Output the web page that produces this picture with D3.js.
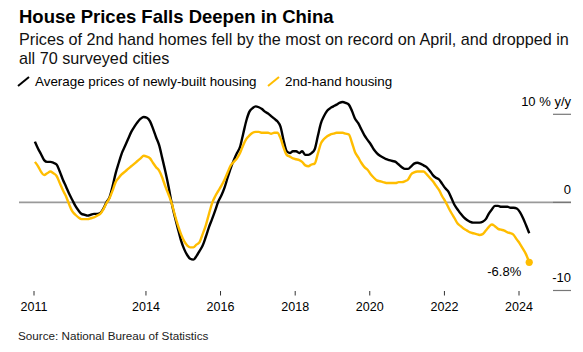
<!DOCTYPE html>
<html>
<head>
<meta charset="utf-8">
<script src="https://cdn.jsdelivr.net/npm/d3@7"></script>
<style>
  body { margin: 0; background: #fff; }
  text { font-family: Arial, "Liberation Sans", sans-serif; }
</style>
</head>
<body>
<div id="chart"></div>
<script>
// monthly y/y change, Jan 2011 .. Apr 2024
var startMonth = "2011-01";
var newBuilt = [
    6.9, 6.1, 5.5, 4.8, 4.6, 4.6, 4.5, 4.3, 3.5, 2.6, 1.8, 1.0,
    0.3, -0.4, -0.9, -1.3, -1.4, -1.5, -1.4, -1.3, -1.3, -1.2, -0.7, 0.0,
    0.6, 1.9, 3.3, 4.5, 5.6, 6.4, 7.2, 8.0, 8.6, 9.1, 9.5, 9.7,
    9.6, 9.2, 8.4, 7.4, 6.5, 5.0, 3.5, 1.8, -0.1, -1.6, -3.0, -4.3,
    -5.3, -6.0, -6.4, -6.5, -6.1, -5.5, -4.9, -3.9, -2.8, -1.9, -0.9, 0.1,
    0.8, 1.7, 2.8, 3.9, 4.8, 5.6, 6.3, 7.8, 9.3, 10.3, 10.7, 10.9,
    10.8, 10.6, 10.3, 10.1, 9.8, 9.5, 9.2, 8.6, 7.0, 5.8, 5.6, 5.8,
    5.8, 5.6, 5.8, 5.4, 5.4, 5.6, 6.0, 7.5, 9.0, 9.8, 10.4, 10.7,
    10.9, 11.1, 11.3, 11.4, 11.3, 11.1, 10.4, 9.5, 9.0, 8.3, 7.6, 7.1,
    6.6, 6.0, 5.6, 5.3, 5.1, 4.9, 4.8, 4.7, 4.6, 4.3, 4.0, 3.8,
    3.8, 4.1, 4.4, 4.5, 4.4, 4.2, 4.0, 3.6, 3.1, 2.8, 2.6, 2.1,
    1.6, 1.2, 0.5, -0.3, -0.8, -1.3, -1.7, -2.0, -2.2, -2.3, -2.3, -2.3,
    -2.2, -1.9, -1.3, -0.8, -0.4, -0.4, -0.5, -0.5, -0.5, -0.6, -0.6, -0.7,
    -1.1, -1.8, -2.6, -3.5
];
var secondHand = [
    4.6, 4.1, 3.5, 3.1, 3.3, 3.5, 3.3, 3.0, 2.2, 1.4, 0.7, -0.2,
    -1.0, -1.4, -1.7, -1.9, -1.9, -1.9, -1.8, -1.7, -1.5, -1.3, -0.8, -0.1,
    0.5, 1.4, 2.3, 2.8, 3.2, 3.5, 3.8, 4.1, 4.4, 4.7, 5.0, 5.3,
    5.2, 5.0, 4.5, 4.0, 3.6, 2.8, 1.8, 0.9, -0.1, -1.4, -2.6, -3.6,
    -4.4, -4.9, -5.1, -5.1, -4.8, -4.5, -3.6, -2.6, -1.3, -0.1, 0.7, 1.3,
    1.9, 2.6, 3.4, 4.2, 4.6, 5.0, 5.6, 6.5, 7.2, 7.6, 7.9, 8.0,
    8.0, 7.9, 7.9, 7.9, 7.8, 7.9, 7.9, 7.3, 6.2, 5.4, 5.2, 5.0,
    4.9, 4.8, 4.6, 4.2, 4.1, 4.3, 4.4, 5.5, 6.7, 7.2, 7.5, 7.7,
    7.8, 7.9, 7.9, 7.9, 7.8, 7.7, 6.8, 5.7, 5.1, 4.5, 4.0, 3.7,
    3.2, 2.8, 2.5, 2.4, 2.3, 2.2, 2.2, 2.2, 2.2, 2.3, 2.3, 2.4,
    2.6, 3.2, 3.4, 3.5, 3.5, 3.5, 3.2, 2.8, 2.4, 1.9, 1.4, 0.7,
    0.1, -0.6, -1.2, -1.8, -2.4, -2.7, -3.0, -3.2, -3.4, -3.5, -3.6, -3.7,
    -3.6, -3.2, -2.8, -2.5, -2.7, -3.0, -3.1, -3.2, -3.4, -3.5, -3.7, -4.2,
    -4.7, -5.3, -5.9, -6.8
];
var xTickYears = [2011, 2014, 2016, 2018, 2020, 2022, 2024];
var yTicks = [10, 0, -10];
var yTickLabels = ["10 % y/y", "0", "-10"];
var seriesNames = ["Average prices of newly-built housing", "2nd-hand housing"];
var lastLabel = "-6.8%";

function drawChart() {

    var width = 583, height = 352;
    var black = "#000000", yellow = "#ffbd00";

    var svg = d3.select("#chart")
        .append("svg")
        .attr("width", width)
        .attr("height", height);

    // title block
    svg.append("text")
        .attr("x", 19).attr("y", 23)
        .style("font-size", "18.5px").style("font-weight", "bold")
        .text("House Prices Falls Deepen in China");
    svg.append("text")
        .attr("x", 19).attr("y", 45)
        .style("font-size", "16.2px").style("fill", "#111")
        .text("Prices of 2nd hand homes fell by the most on record on April, and dropped in");
    svg.append("text")
        .attr("x", 19).attr("y", 63.5)
        .style("font-size", "16.2px").style("fill", "#111")
        .text("all 70 surveyed cities");

    // legend: slash icons + labels
    var legend = svg.append("g");
    var legendX = [18, 268];
    [black, yellow].forEach(function (c, i) {
        legend.append("line")
            .attr("x1", legendX[i]).attr("y1", 86)
            .attr("x2", legendX[i] + 11).attr("y2", 77)
            .attr("stroke", c).attr("stroke-width", 2);
        legend.append("text")
            .attr("x", legendX[i] + 17).attr("y", 86)
            .style("font-size", "13.4px")
            .text(seriesNames[i]);
    });

    var parseMonth = d3.timeParse("%Y-%m");
    var t0 = parseMonth(startMonth);
    var dates = newBuilt.map(function (d, i) {
        return new Date(t0.getFullYear(), t0.getMonth() + i, 15);
    });

    var x = d3.scaleTime()
        .domain([new Date(2011, 0, 1), new Date(2024, 0, 1)])
        .range([33.5, 518.5]);

    var y = d3.scaleLinear()
        .domain([-10, 10])
        .range([290.5, 114.3]);

    // zero line
    svg.append("line")
        .attr("x1", 19).attr("x2", 571)
        .attr("y1", y(0)).attr("y2", y(0))
        .attr("stroke", "#9a9a9a").attr("stroke-width", 1.6);

    // right-side y axis: short tick marks with labels above
    var yAxis = svg.append("g");
    yAxis.selectAll("line")
        .data(yTicks)
        .enter().append("line")
        .attr("x1", 553).attr("x2", 571)
        .attr("y1", function (d) { return y(d); })
        .attr("y2", function (d) { return y(d); })
        .attr("stroke", "#777").attr("stroke-width", 1.2);
    yAxis.selectAll("text")
        .data(yTicks)
        .enter().append("text")
        .attr("x", 571)
        .attr("y", function (d) { return y(d) - 8.5; })
        .attr("text-anchor", "end")
        .style("font-size", "13px")
        .text(function (d, i) { return yTickLabels[i]; });

    // x axis
    var xAxis = d3.axisBottom(x)
        .tickValues(xTickYears.map(function (yr) { return new Date(yr, 0, 1); }))
        .tickFormat(d3.timeFormat("%Y"))
        .tickSize(4.5)
        .tickPadding(7);
    var gx = svg.append("g")
        .attr("transform", "translate(0,291)")
        .call(xAxis);
    gx.select(".domain").remove();
    gx.selectAll(".tick line").attr("stroke", "#333");
    gx.selectAll(".tick text")
        .style("font-family", "Arial, 'Liberation Sans', sans-serif")
        .style("font-size", "12.5px")
        .attr("fill", "#000");

    var line = d3.line()
        .x(function (d, i) { return x(dates[i]); })
        .y(function (d) { return y(d); })
        .curve(d3.curveMonotoneX);

    svg.append("path")
        .datum(newBuilt)
        .attr("fill", "none")
        .attr("stroke", black)
        .attr("stroke-width", 2.4)
        .attr("stroke-linejoin", "round")
        .attr("d", line);

    svg.append("path")
        .datum(secondHand)
        .attr("fill", "none")
        .attr("stroke", yellow)
        .attr("stroke-width", 2.4)
        .attr("stroke-linejoin", "round")
        .attr("d", line);

    // end marker and label on 2nd-hand series
    var n = secondHand.length - 1;
    svg.append("circle")
        .attr("cx", x(dates[n])).attr("cy", y(secondHand[n]))
        .attr("r", 3.6)
        .attr("fill", yellow);
    svg.append("text")
        .attr("x", x(dates[n]) - 8).attr("y", y(secondHand[n]) + 14)
        .attr("text-anchor", "end")
        .style("font-size", "13px")
        .text(lastLabel);

    // source
    svg.append("text")
        .attr("x", 18).attr("y", 340)
        .style("font-size", "11.7px").style("fill", "#222")
        .text("Source: National Bureau of Statistics");
}

drawChart();
</script>
</body>
</html>
